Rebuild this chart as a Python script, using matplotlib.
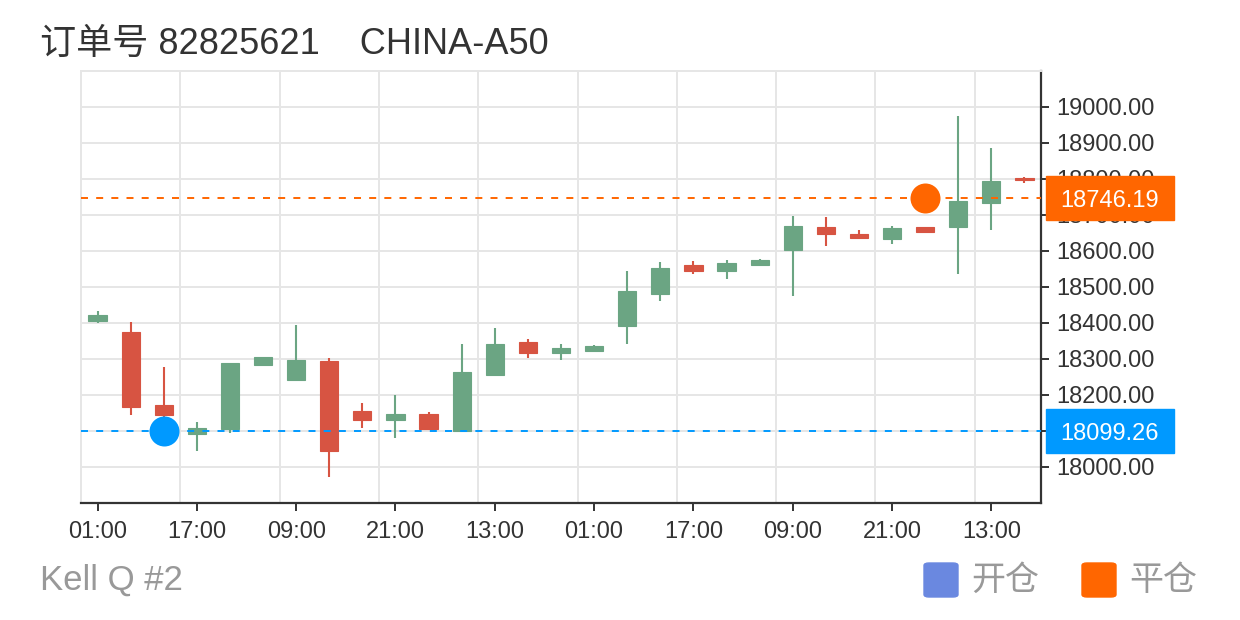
import matplotlib
matplotlib.use("Agg")
import matplotlib.pyplot as plt
from matplotlib.patches import Rectangle, FancyBboxPatch
import matplotlib.transforms as mtransforms
import numpy as np

plt.rcParams['font.family'] = ['Liberation Sans', 'Noto Sans CJK SC', 'DejaVu Sans']

# K线数据 (开, 收, 低, 高)
opens = [18405, 18376, 18171, 18091, 18105, 18283, 18241, 18294, 18155, 18130,
         18146, 18100, 18256, 18346, 18316, 18323, 18392, 18481, 18560, 18543,
         18561, 18602, 18666, 18646, 18633, 18665, 18667, 18733, 18801]
closes = [18423, 18167, 18144, 18109, 18288, 18304, 18296, 18044, 18130, 18146,
          18106, 18263, 18341, 18315, 18329, 18337, 18488, 18551, 18543, 18565,
          18575, 18668, 18646, 18636, 18663, 18653, 18739, 18794, 18796]
lows = [18400, 18144, 18138, 18044, 18093, 18280, 18239, 17972, 18109, 18081,
        18104, 18098, 18255, 18302, 18298, 18322, 18342, 18462, 18536, 18522,
        18560, 18475, 18614, 18633, 18619, 18652, 18535, 18658, 18789]
highs = [18432, 18402, 18277, 18124, 18288, 18304, 18393, 18303, 18177, 18199,
         18152, 18340, 18385, 18356, 18341, 18338, 18544, 18569, 18571, 18574,
         18576, 18698, 18694, 18657, 18668, 18667, 18973, 18885, 18805]
tick_pos = [0, 3, 6, 9, 12, 15, 18, 21, 24, 27]
tick_labels = ["01:00", "17:00", "09:00", "21:00", "13:00",
               "01:00", "17:00", "09:00", "21:00", "13:00"]

open_idx, open_price = 2, 18099.26
close_idx, close_price = 25, 18746.19

UP = '#6ba583'
DOWN = '#d75442'
BLUE = '#0099ff'
ORANGE = '#ff6600'
GRID = '#e6e6e6'
DARK = '#333333'

fig = plt.figure(figsize=(12.4, 6.2), dpi=100)
ax = fig.add_axes([81 / 1240, 1 - 503 / 620, 960 / 1240, 432.3 / 620])

x = np.arange(len(opens))
o = np.array(opens)
c = np.array(closes)
colors = [UP if cc >= oo else DOWN for oo, cc in zip(o, c)]

ax.vlines(x, lows, highs, colors=colors, lw=1.5, zorder=2)
ax.bar(x, np.abs(c - o), bottom=np.minimum(o, c), width=0.55,
       color=colors, edgecolor=colors, lw=0.8, zorder=3)

# 开仓 / 平仓 价格线
ax.axhline(open_price, color=BLUE, lw=1.4, ls=(0, (3.6, 4.2)), zorder=4)
ax.axhline(close_price, color=ORANGE, lw=1.4, ls=(0, (3.6, 4.2)), zorder=4)
ax.plot([open_idx], [open_price], 'o', ms=21.6, color=BLUE, mec='none', zorder=5)
ax.plot([close_idx], [close_price], 'o', ms=21.6, color=ORANGE, mec='none', zorder=5)

ax.set_xlim(-0.5, len(opens) - 0.5)
ax.set_ylim(17900, 19100)

# 右侧价格标签
trans = mtransforms.blended_transform_factory(ax.transAxes, ax.transData)
box_h = 44 / 0.36
for price, col in [(close_price, ORANGE), (open_price, BLUE)]:
    ax.add_patch(Rectangle((1.0052, price - box_h / 2), 128 / 960, box_h,
                           transform=trans, color=col, clip_on=False, zorder=6))
    ax.text(1.0052 + 64 / 960, price, f"{price:.2f}", transform=trans,
            color='white', fontsize=17, ha='center', va='center_baseline',
            clip_on=False, zorder=7)

# 坐标轴
ax.yaxis.tick_right()
ax.set_yticks(np.arange(18000, 19001, 100))
ax.set_yticklabels([f"{v:.2f}" for v in range(18000, 19001, 100)])
ax.set_xticks(tick_pos)
ax.set_xticklabels(tick_labels)
ax.set_xticks(np.arange(-0.5, len(opens), 3), minor=True)
ax.tick_params(axis='x', which='minor', length=0)
ax.tick_params(axis='both', which='major', colors=DARK, labelsize=17,
               length=6, width=1.4)
ax.tick_params(axis='y', pad=5)
ax.tick_params(axis='x', pad=7)
ax.grid(True, axis='y', which='major', color=GRID, lw=1.4, zorder=0)
ax.grid(True, axis='x', which='minor', color=GRID, lw=1.4, zorder=0)
ax.axhline(17900, color=GRID, lw=1.4, zorder=0)
ax.set_axisbelow(True)
for s in ['top', 'left']:
    ax.spines[s].set_color(GRID)
    ax.spines[s].set_linewidth(1.4)
for s in ['bottom', 'right']:
    ax.spines[s].set_color(DARK)
    ax.spines[s].set_linewidth(1.6)

# 标题和底部文字
fig.text(40 / 1240, 1 - 44 / 620, "订单号 82825621    CHINA-A50",
         fontsize=26, color=DARK, va='center')
fig.text(40 / 1240, 1 - 580 / 620, "Kell Q #2", fontsize=25, color='#999999',
         va='center')

# 图例
for x0, col, label in [(924, '#6a88e0', "开仓"), (1082, ORANGE, "平仓")]:
    fig.patches.append(FancyBboxPatch((x0 / 1240, 1 - 597 / 620), 34 / 1240, 34 / 620,
                                      boxstyle="round,pad=0,rounding_size=0.004",
                                      transform=fig.transFigure, color=col))
    fig.text((x0 + 47) / 1240, 1 - 581 / 620, label, fontsize=24.5,
             color='#999999', va='center')

fig.savefig("out.png", dpi=100)
